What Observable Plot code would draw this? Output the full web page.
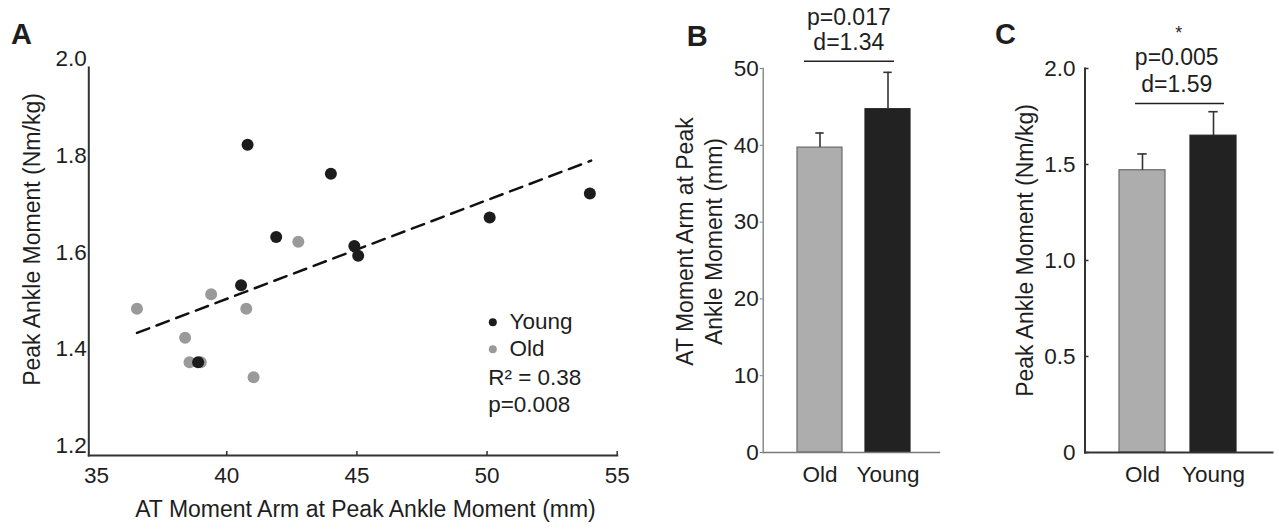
<!DOCTYPE html>
<html>
<head>
<meta charset="utf-8">
<script src="https://cdn.jsdelivr.net/npm/d3@7"></script>
<script src="https://cdn.jsdelivr.net/npm/@observablehq/plot@0.6"></script>
<style>
  body { margin: 0; background: #fff; }
  #wrap { position: relative; width: 1279px; height: 529px; background: #fff; overflow: hidden; }
  #wrap > svg { position: absolute; top: 0; }
</style>
</head>
<body>
<div id="wrap"></div>
<script>
// ---------- Data ----------
const groups = ["Old", "Young"];

// Panel A: scatter
const youngX = [40.8, 41.9, 40.55, 38.9, 44.0, 44.9, 45.05, 50.1, 53.95];
const youngY = [1.823, 1.632, 1.532, 1.372, 1.763, 1.613, 1.593, 1.672, 1.722];
const oldX = [36.55, 42.75, 39.4, 40.75, 38.4, 38.57, 39.0, 41.03];
const oldY = [1.483, 1.622, 1.513, 1.483, 1.423, 1.372, 1.372, 1.341];
const fitX = [36.55, 54.0];
const fitY = [1.433, 1.79];
const xTicksA = [35, 40, 45, 50, 55];
const yTicksA = [1.2, 1.4, 1.6, 1.8, 2.0];
const xDomainA = [34.7, 55];
const yDomainA = [1.179, 1.983];
const legendA = ["Young", "Old"];
const statsA = ["R\u00B2 = 0.38", "p=0.008"];
const xTitleA = "AT Moment Arm at Peak Ankle Moment (mm)";
const yTitleA = "Peak Ankle Moment (Nm/kg)";

// Panel B: moment arm bars
const armMean = [39.7, 44.7];
const armUpper = [41.6, 49.5];
const yTicksB = [0, 10, 20, 30, 40, 50];
const yDomainB = [0, 50];
const bracketB = 50.95;
const statsB = ["p=0.017", "d=1.34"];
const yTitleB = ["AT Moment Arm at Peak", "Ankle Moment (mm)"];

// Panel C: peak moment bars
const momentMean = [1.47, 1.65];
const momentUpper = [1.555, 1.775];
const yTicksC = [0, 0.5, 1.0, 1.5, 2.0];
const yDomainC = [0, 2];
const bracketC = 1.818;
const starC = "*";
const statsC = ["p=0.005", "d=1.59"];
const yTitleC = "Peak Ankle Moment (Nm/kg)";

// ---------- Style ----------
const FONT = "'Liberation Sans', Arial, Helvetica, sans-serif";
const INK = "#1e1e1e";
const GREY_PT = "#9a9a9a";
const BLACK_PT = "#1c1c1c";
const TICK_FS = 22.5;
const TITLE_FS = 23;
const baseStyle = { fontFamily: FONT, fontSize: TICK_FS + "px", color: INK, background: "transparent", overflow: "visible" };

const wrap = document.getElementById("wrap");
function place(svg, left) { svg.style.left = left + "px"; wrap.appendChild(svg); }

// ---------- Panel A ----------
const scatter = [
  ...oldX.map((x, i) => ({ group: "Old", x, y: oldY[i] })),
  ...youngX.map((x, i) => ({ group: "Young", x, y: youngY[i] }))
];
const fit = fitX.map((x, i) => ({ x, y: fitY[i] }));

const legendMarks = [];
legendA.forEach((g, i) => {
  legendMarks.push(Plot.dot([g], { frameAnchor: "bottom-right", dx: -124.4, dy: -133.3 + i * 27, r: 4, fill: d => d }));
  legendMarks.push(Plot.text([g], { frameAnchor: "bottom-right", dx: -107.7, dy: -133.3 + i * 27, text: d => d, textAnchor: "start", lineAnchor: "middle", fontSize: TICK_FS }));
});
statsA.forEach((s, i) => {
  legendMarks.push(Plot.text([s], { frameAnchor: "bottom-right", dx: -129, dy: -77.3 + i * 27, text: d => d, textAnchor: "start", lineAnchor: "middle", fontSize: TICK_FS }));
});

const plotA = Plot.plot({
  width: 640, height: 529,
  marginLeft: 88.3, marginRight: 23.3, marginTop: 67, marginBottom: 74,
  style: baseStyle,
  x: { domain: xDomainA, label: null },
  y: { domain: yDomainA, label: null },
  color: { domain: groups, range: [GREY_PT, BLACK_PT] },
  marks: [
    Plot.axisY({ ticks: yTicksA, tickSize: 0, tickPadding: 2, tickFormat: d => d.toFixed(1), label: null, fontSize: TICK_FS }),
    Plot.axisX({ ticks: xTicksA, tickSize: 0, tickPadding: 12, label: null, fontSize: TICK_FS }),
    Plot.axisX({ ticks: xTicksA.slice(1), tickSize: 4, dy: -4, tickFormat: () => "", label: null, stroke: "#333", strokeWidth: 1.5 }),
    Plot.frame({ anchor: "left", stroke: "#333", strokeWidth: 2 }),
    Plot.frame({ anchor: "bottom", stroke: "#333", strokeWidth: 2 }),
    Plot.line(fit, { x: "x", y: "y", stroke: "#111", strokeWidth: 2.5, strokeDasharray: "13,8" }),
    Plot.dot(scatter, { x: "x", y: "y", r: 6, fill: "group" }),
    ...legendMarks,
    Plot.text(["A"], { frameAnchor: "top-left", dx: -67.3, dy: -33, text: d => d, fontWeight: "bold", fontSize: 29, textAnchor: "middle", lineAnchor: "middle" }),
    Plot.text([yTitleA], { frameAnchor: "left", rotate: -90, dx: -56.6, dy: -22, text: d => d, fontSize: TITLE_FS, textAnchor: "middle", lineAnchor: "middle" }),
    Plot.text([xTitleA], { frameAnchor: "bottom", dx: 12.5, dy: 54, text: d => d, fontSize: TITLE_FS, textAnchor: "middle", lineAnchor: "middle" })
  ]
});
place(plotA, 0);

// ---------- Bar panel builder ----------
function barPanel({ means, uppers, yDomain, yTicks, bracket, lines, title, letter, opts }) {
  const rows = groups.map((g, i) => ({ group: g, mean: means[i], upper: uppers[i] }));
  const annot = lines.map(l => Plot.text([bracket], {
    y: d => d, text: () => l.text, dy: l.dy, dx: l.dx, fontSize: l.fs || TITLE_FS, textAnchor: "middle", lineAnchor: "middle"
  }));
  return Plot.plot({
    width: opts.width, height: 529,
    marginLeft: opts.ml, marginRight: opts.mr, marginTop: 68, marginBottom: 77,
    style: baseStyle,
    x: { type: "band", domain: groups, paddingInner: opts.pi, paddingOuter: opts.po, align: opts.align, label: null },
    y: { domain: yDomain, label: null },
    color: { domain: groups, range: ["#adadad", "#222222"] },
    marks: [
      Plot.barY(rows, { x: "group", y: "mean", fill: "group", stroke: d => d.group === "Old" ? "#6a6a6a" : "#222222", strokeWidth: 1.2 }),
      Plot.ruleX(rows, { x: "group", y1: "mean", y2: "upper", stroke: "#333", strokeWidth: 1.6 }),
      Plot.tickY(rows, { x: "group", y: "upper", stroke: "#333", strokeWidth: 1.6, insetLeft: 18.3, insetRight: 18.3 }),
      ...opts.axes,
      Plot.axisX({ tickSize: 0, tickPadding: opts.catPad, label: null, fontSize: TICK_FS }),
      Plot.ruleY([bracket], { stroke: "#222", strokeWidth: 1.6, insetLeft: opts.bl, insetRight: opts.br }),
      ...annot,
      Plot.text([letter], { frameAnchor: "top-left", dx: opts.lx, dy: opts.ly, text: d => d, fontWeight: "bold", fontSize: 29, textAnchor: "middle", lineAnchor: "middle" }),
      Plot.text([title.join("\n")], { frameAnchor: "left", rotate: -90, dx: opts.tx, dy: opts.ty, text: d => d, fontSize: TITLE_FS, lineHeight: 1.28, textAnchor: "middle", lineAnchor: "middle" })
    ]
  });
}

// ---------- Panel B ----------
const plotB = barPanel({
  means: armMean, uppers: armUpper, yDomain: yDomainB, yTicks: yTicksB,
  bracket: bracketB,
  lines: [{ text: statsB[0], dy: -44, dx: -2.5 }, { text: statsB[1], dy: -18.5, dx: -2.5 }],
  title: yTitleB, letter: "B",
  opts: {
    width: 320, ml: 122.7, mr: 21, pi: 0.337, po: 0.454, align: 0.547, catPad: 14,
    bl: 41.3, br: 45, lx: -66, ly: -32, tx: -65.2, ty: -19,
    axes: [
      Plot.frame({ anchor: "left", stroke: "#7a7a7a", strokeWidth: 1.3 }),
      Plot.frame({ anchor: "bottom", stroke: "#7a7a7a", strokeWidth: 1.3 }),
      Plot.axisY({ ticks: yTicksB, tickSize: 3, tickPadding: 1.5, label: null, stroke: "#7a7a7a", fontSize: TICK_FS })
    ]
  }
});
place(plotB, 640);

// ---------- Panel C ----------
const plotC = barPanel({
  means: momentMean, uppers: momentUpper, yDomain: yDomainC, yTicks: yTicksC,
  bracket: bracketC,
  lines: [{ text: starC, dy: -70, dx: 0, fs: 18 }, { text: statsC[0], dy: -46, dx: -2 }, { text: statsC[1], dy: -18.5, dx: -2 }],
  title: [yTitleC], letter: "C",
  opts: {
    width: 319, ml: 124.5, mr: 7, pi: 0.352, po: 0.496, align: 0.489, catPad: 14,
    bl: 50.5, br: 48, lx: -79.5, ly: -34, tx: -61.5, ty: -10,
    axes: [
      Plot.frame({ anchor: "left", stroke: "#333", strokeWidth: 2 }),
      Plot.frame({ anchor: "bottom", stroke: "#333", strokeWidth: 2 }),
      Plot.axisY({ ticks: yTicksC, tickSize: 0, tickPadding: 9.5, tickFormat: d => d === 0 ? "0" : d.toFixed(1), label: null, fontSize: TICK_FS }),
      Plot.axisY({ ticks: yTicksC, tickSize: 4, dx: 4, tickFormat: () => "", label: null, stroke: "#333", strokeWidth: 1.5 })
    ]
  }
});
place(plotC, 960);
</script>
</body>
</html>
